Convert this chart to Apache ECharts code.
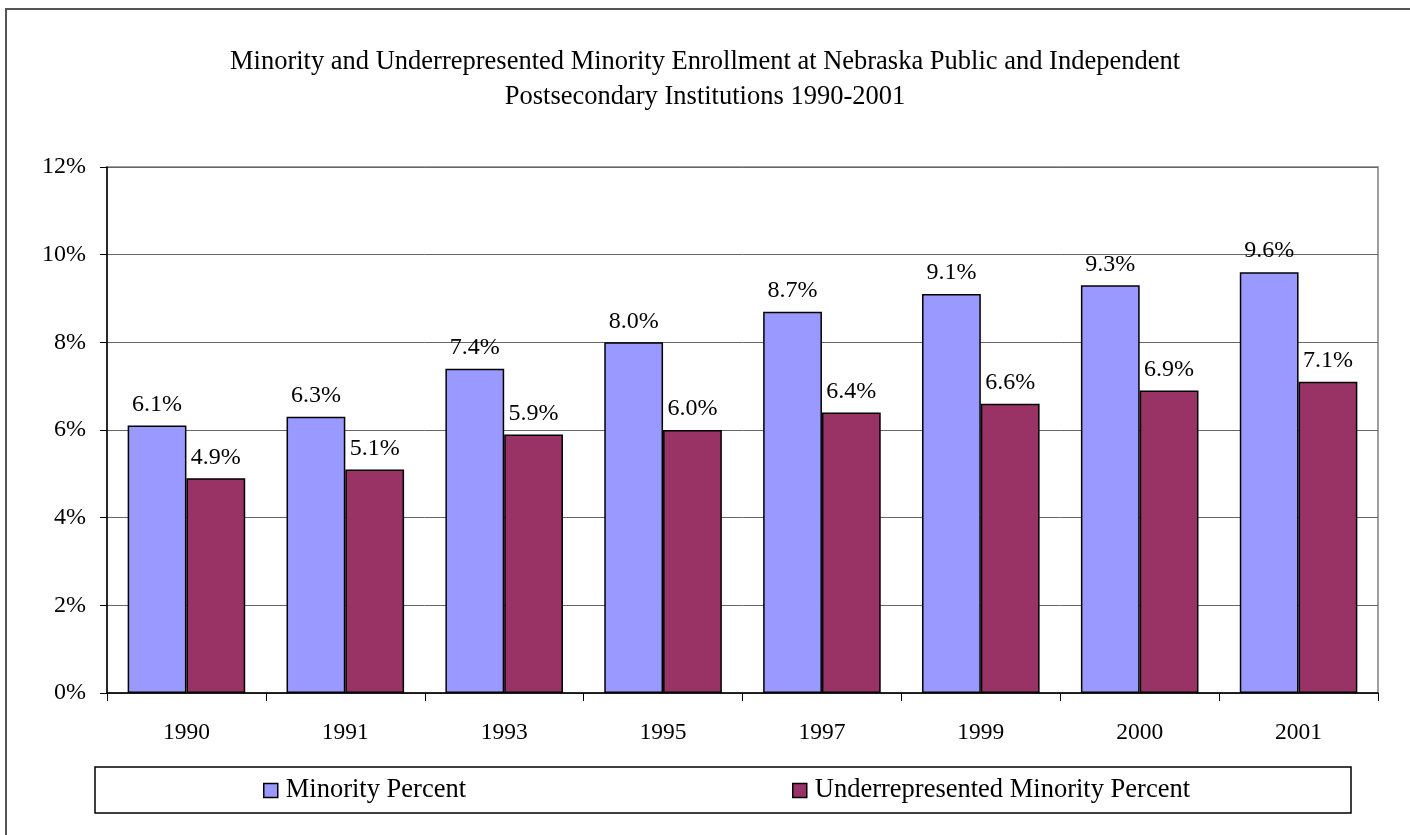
<!DOCTYPE html>
<html>
<head>
<meta charset="utf-8">
<title>Minority Enrollment</title>
<script src="https://cdn.jsdelivr.net/npm/echarts@6/dist/echarts.min.js"></script>
<style>
    html,body{margin:0;padding:0;background:#fff;}
    #main{width:1410px;height:835px;}
</style>
</head>
<body>
<div id="main"></div>
<script>
//数据
var years = ['1990','1991','1993','1995','1997','1999','2000','2001'];
var minorityPct = [6.1, 6.3, 7.4, 8.0, 8.7, 9.1, 9.3, 9.6];
var underrepPct = [4.9, 5.1, 5.9, 6.0, 6.4, 6.6, 6.9, 7.1];
var seriesNames = ['Minority Percent', 'Underrepresented Minority Percent'];

var FONT = '"Liberation Serif", "Times New Roman", serif';

function pctLabel(p){
    return p.value.toFixed(1) + '%';
}

var GChart1 = echarts.init(document.getElementById('main'));

var legendText = {fontFamily: FONT, fontSize: 26.5, color: '#000', padding: [0, 0, 0, 3]};
var barLabel = {
    show: true,
    position: 'top',
    distance: 9,
    fontFamily: FONT,
    fontSize: 24,
    color: '#000',
    formatter: pctLabel
};

var option = {
    backgroundColor: '#fff',
    animation: false,
    title: {
        text: 'Minority and Underrepresented Minority Enrollment at Nebraska Public and Independent\nPostsecondary Institutions 1990-2001',
        left: 'center',
        top: 40,
        textStyle: {
            fontFamily: FONT,
            fontWeight: 'normal',
            fontSize: 26.5,
            lineHeight: 35,
            color: '#000'
        }
    },
    graphic: [
        {
            type: 'rect',
            shape: {x: 6, y: 9, width: 1500, height: 1000},
            style: {fill: 'none', stroke: '#555', lineWidth: 2},
            silent: true
        },
        {
            type: 'rect',
            shape: {x: 95, y: 767, width: 1256, height: 46},
            style: {fill: 'none', stroke: '#000', lineWidth: 1.5},
            silent: true
        }
    ],
    legend: [
        {
            data: [seriesNames[0]],
            left: 263,
            top: 777,
            icon: 'rect',
            itemWidth: 14,
            itemHeight: 14,
            padding: 0,
            textStyle: legendText,
            itemStyle: {borderColor: '#000', borderWidth: 1.5}
        },
        {
            data: [seriesNames[1]],
            left: 792,
            top: 777,
            icon: 'rect',
            itemWidth: 14,
            itemHeight: 14,
            padding: 0,
            textStyle: legendText,
            itemStyle: {borderColor: '#000', borderWidth: 1.5}
        }
    ],
    grid: {
        left: 107,
        right: 32,
        top: 167,
        bottom: 142,
        show: true,
        borderColor: '#808080',
        borderWidth: 1.5
    },
    xAxis: {
        type: 'category',
        data: years,
        axisLine: {lineStyle: {color: '#000', width: 1.5}},
        axisTick: {show: true, length: 8, lineStyle: {color: '#000'}},
        axisLabel: {
            fontFamily: FONT,
            fontSize: 23.5,
            color: '#000',
            margin: 28
        }
    },
    yAxis: {
        type: 'value',
        min: 0,
        max: 12,
        interval: 2,
        axisLine: {show: true, lineStyle: {color: '#000', width: 1.5}},
        axisTick: {show: true, length: 7, lineStyle: {color: '#000'}},
        splitLine: {lineStyle: {color: '#666', width: 1}},
        axisLabel: {
            fontFamily: FONT,
            fontSize: 24,
            color: '#000',
            margin: 21,
            formatter: '{value}%'
        }
    },
    series: [
        {
            name: seriesNames[0],
            type: 'bar',
            data: minorityPct,
            barGap: '0%',
            barCategoryGap: '26%',
            itemStyle: {color: '#9999FF', borderColor: '#000', borderWidth: 1.5},
            label: barLabel
        },
        {
            name: seriesNames[1],
            type: 'bar',
            data: underrepPct,
            barGap: '0%',
            barCategoryGap: '26%',
            itemStyle: {color: '#993366', borderColor: '#000', borderWidth: 1.5},
            label: barLabel
        }
    ]
};

GChart1.setOption(option);
</script>
</body>
</html>
